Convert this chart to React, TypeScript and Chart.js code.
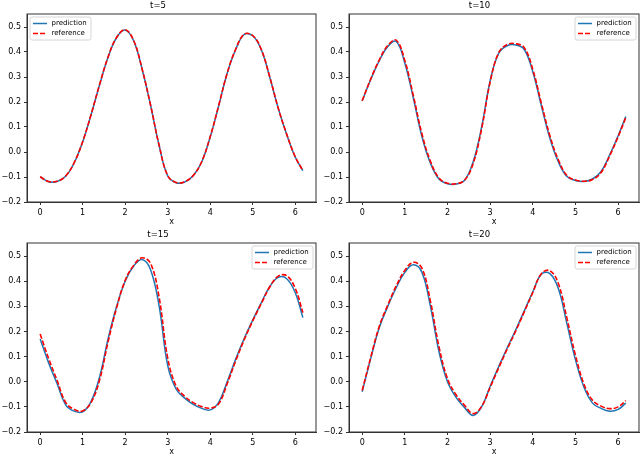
import React, { useEffect, useRef } from 'react';
import { Chart, registerables } from 'chart.js';

Chart.register(...registerables);

// ---------- data ----------
const seriesLabels = ['prediction', 'reference'];
const panelTitles = ['t=5', 't=10', 't=15', 't=20'];
const xTickValues = [0, 1, 2, 3, 4, 5, 6];
const yTickValues = [-0.2, -0.1, 0, 0.1, 0.2, 0.3, 0.4, 0.5];

// sample positions along x (shared by all panels)
const xGrid = [0, 0.2, 0.4, 0.6, 0.8, 1.0, 1.2, 1.4, 1.6, 1.8, 2.0, 2.2, 2.4, 2.6, 2.8, 3.0, 3.2, 3.4, 3.6, 3.8, 4.0, 4.2, 4.4, 4.6, 4.8, 5.0, 5.2, 5.4, 5.6, 5.8, 6.0, 6.18];

const t5Pred = [-0.100, -0.119, -0.118, -0.097, -0.044, 0.040, 0.150, 0.270, 0.380, 0.458, 0.488, 0.445, 0.330, 0.185, 0.025, -0.095, -0.123, -0.120, -0.095, -0.040, 0.060, 0.185, 0.315, 0.410, 0.470, 0.465, 0.410, 0.300, 0.175, 0.070, -0.020, -0.075];
const t5Ref = [-0.099, -0.118, -0.117, -0.096, -0.043, 0.041, 0.151, 0.271, 0.381, 0.459, 0.489, 0.446, 0.331, 0.186, 0.026, -0.094, -0.122, -0.119, -0.094, -0.039, 0.061, 0.186, 0.316, 0.411, 0.471, 0.466, 0.411, 0.301, 0.176, 0.071, -0.019, -0.074];

const t10Pred = [0.205, 0.290, 0.365, 0.422, 0.442, 0.355, 0.215, 0.062, -0.045, -0.108, -0.127, -0.128, -0.113, -0.040, 0.100, 0.285, 0.395, 0.425, 0.428, 0.410, 0.320, 0.185, 0.055, -0.040, -0.098, -0.114, -0.118, -0.108, -0.078, -0.012, 0.065, 0.142];
const t10Ref = [0.205, 0.292, 0.368, 0.426, 0.447, 0.366, 0.225, 0.073, -0.037, -0.104, -0.125, -0.127, -0.113, -0.047, 0.093, 0.280, 0.397, 0.430, 0.433, 0.417, 0.330, 0.195, 0.065, -0.032, -0.094, -0.112, -0.117, -0.110, -0.082, -0.016, 0.061, 0.138];

const t15Pred = [0.170, 0.075, -0.008, -0.092, -0.117, -0.120, -0.078, 0.020, 0.172, 0.300, 0.400, 0.460, 0.486, 0.445, 0.300, 0.065, -0.030, -0.065, -0.090, -0.106, -0.112, -0.082, 0.000, 0.090, 0.172, 0.245, 0.314, 0.378, 0.415, 0.410, 0.355, 0.255];
const t15Ref = [0.190, 0.092, 0.005, -0.082, -0.110, -0.116, -0.082, 0.008, 0.160, 0.295, 0.403, 0.463, 0.493, 0.470, 0.335, 0.095, -0.018, -0.058, -0.083, -0.099, -0.105, -0.088, -0.008, 0.083, 0.167, 0.242, 0.310, 0.377, 0.420, 0.422, 0.372, 0.275];

const t20Pred = [-0.040, 0.092, 0.215, 0.300, 0.375, 0.435, 0.465, 0.435, 0.300, 0.120, 0.000, -0.062, -0.103, -0.134, -0.100, -0.018, 0.060, 0.135, 0.207, 0.282, 0.358, 0.428, 0.430, 0.370, 0.230, 0.087, -0.022, -0.085, -0.106, -0.117, -0.110, -0.085];
const t20Ref = [-0.035, 0.097, 0.220, 0.305, 0.382, 0.443, 0.475, 0.452, 0.320, 0.140, 0.012, -0.052, -0.094, -0.127, -0.098, -0.022, 0.055, 0.130, 0.202, 0.278, 0.355, 0.430, 0.442, 0.390, 0.252, 0.105, -0.010, -0.074, -0.097, -0.107, -0.100, -0.075];

const panelPred = [t5Pred, t10Pred, t15Pred, t20Pred];
const panelRef = [t5Ref, t10Ref, t15Ref, t20Ref];

// ---------- style / layout ----------
const FONT = 'DejaVu Sans';
const BLUE = '#1f77b4';
const RED = '#ff0000';
const SPINE = '#333333';

const layouts = [
  { left: 0, top: 0, w: 320, h: 229, yW: 27, xH: 27, padR: 4, xTitlePad: 3, legend: 'left' },
  { left: 320, top: 0, w: 320, h: 229, yW: 29, xH: 27, padR: 1, xTitlePad: 3, legend: 'right' },
  { left: 0, top: 229, w: 320, h: 228, yW: 27, xH: 25, padR: 4, xTitlePad: 1, legend: 'right' },
  { left: 320, top: 229, w: 320, h: 228, yW: 29, xH: 25, padR: 1, xTitlePad: 1, legend: 'right' },
];

const fmtY = (v: number) => (v < -1e-9 ? '\u2212' + Math.abs(v).toFixed(1) : Math.abs(v).toFixed(1));

const framePlugin = {
  id: 'mplFrame',
  afterDraw(chart: any, _args: any, opts: any) {
    const { ctx, chartArea } = chart;
    const { left, top, right, bottom } = chartArea;
    ctx.save();
    ctx.strokeStyle = SPINE;
    ctx.lineWidth = 1;
    ctx.strokeRect(left, top, right - left, bottom - top);
    // legend
    const w = 61, h = 23;
    const bx = opts.side === 'left' ? left + 3 : right - 3 - w;
    const by = top + 3;
    ctx.beginPath();
    const r = 2;
    ctx.moveTo(bx + r, by);
    ctx.lineTo(bx + w - r, by);
    ctx.quadraticCurveTo(bx + w, by, bx + w, by + r);
    ctx.lineTo(bx + w, by + h - r);
    ctx.quadraticCurveTo(bx + w, by + h, bx + w - r, by + h);
    ctx.lineTo(bx + r, by + h);
    ctx.quadraticCurveTo(bx, by + h, bx, by + h - r);
    ctx.lineTo(bx, by + r);
    ctx.quadraticCurveTo(bx, by, bx + r, by);
    ctx.closePath();
    ctx.fillStyle = 'rgba(255,255,255,0.8)';
    ctx.fill();
    ctx.strokeStyle = '#d6d6d6';
    ctx.lineWidth = 1;
    ctx.stroke();
    chart.data.datasets.forEach((ds: any, i: number) => {
      const ly = by + 6.5 + i * 10;
      ctx.beginPath();
      ctx.setLineDash(ds.borderDash || []);
      ctx.strokeStyle = ds.borderColor;
      ctx.lineWidth = ds.borderWidth;
      ctx.moveTo(bx + 3, ly);
      ctx.lineTo(bx + 17, ly);
      ctx.stroke();
      ctx.setLineDash([]);
      ctx.fillStyle = '#000';
      ctx.font = `7px "${FONT}"`;
      ctx.textBaseline = 'middle';
      ctx.textAlign = 'left';
      ctx.fillText(ds.label, bx + 21.5, ly);
    });
    ctx.restore();
  },
};

function Panel({ idx }: { idx: number }) {
  const ref = useRef<HTMLCanvasElement | null>(null);
  const L = layouts[idx];
  useEffect(() => {
    if (!ref.current) return;
    const chart = new Chart(ref.current, {
      type: 'line',
      data: {
        datasets: [
          {
            label: seriesLabels[0],
            data: xGrid.map((x, i) => ({ x, y: panelPred[idx][i] })),
            borderColor: BLUE,
            borderWidth: 1.5,
            pointRadius: 0,
            fill: false,
            tension: 0.4,
            order: 1,
          },
          {
            label: seriesLabels[1],
            data: xGrid.map((x, i) => ({ x, y: panelRef[idx][i] })),
            borderColor: RED,
            borderWidth: 1.6,
            borderDash: [5, 2],
            pointRadius: 0,
            fill: false,
            tension: 0.4,
            order: 0,
          },
        ],
      },
      options: {
        animation: false,
        responsive: false,
        maintainAspectRatio: false,
        devicePixelRatio: 1,
        layout: { padding: { left: 0, right: L.padR, top: 0, bottom: 0 } },
        plugins: {
          legend: { display: false },
          tooltip: { enabled: false },
          title: {
            display: true,
            text: panelTitles[idx],
            color: '#000',
            font: { family: FONT, size: 8.5, weight: 'normal', lineHeight: 1 },
            padding: { top: 1.5, bottom: 4 },
          },
          mplFrame: { side: L.legend },
        } as any,
        scales: {
          x: {
            type: 'linear',
            min: -0.309,
            max: 6.489,
            afterBuildTicks: (s: any) => {
              s.ticks = xTickValues.map((v) => ({ value: v }));
            },
            afterFit: (s: any) => {
              s.height = L.xH;
            },
            ticks: {
              color: '#000',
              font: { family: FONT, size: 8 },
              padding: 3,
              maxRotation: 0,
              autoSkip: false,
              callback: (v: any) => String(v),
            },
            grid: { drawOnChartArea: false, drawTicks: true, tickLength: 3, color: SPINE },
            border: { display: true, color: SPINE },
            title: {
              display: true,
              text: 'x',
              color: '#000',
              font: { family: FONT, size: 8, lineHeight: 1 },
              padding: { top: 0, bottom: L.xTitlePad },
            },
          },
          y: {
            type: 'linear',
            min: -0.2,
            max: 0.552,
            afterBuildTicks: (s: any) => {
              s.ticks = yTickValues.map((v) => ({ value: v }));
            },
            afterFit: (s: any) => {
              s.width = L.yW;
            },
            ticks: {
              color: '#000',
              font: { family: FONT, size: 8 },
              padding: 3,
              autoSkip: false,
              callback: (v: any) => fmtY(Number(v)),
            },
            grid: { drawOnChartArea: false, drawTicks: true, tickLength: 3, color: SPINE },
            border: { display: true, color: SPINE },
          },
        },
      } as any,
      plugins: [framePlugin as any],
    });
    return () => chart.destroy();
  }, [idx]);
  return (
    <canvas
      ref={ref}
      width={L.w}
      height={L.h}
      style={{ position: 'absolute', left: L.left, top: L.top, width: L.w, height: L.h }}
    />
  );
}

export default function App() {
  useEffect(() => {
    document.body.style.margin = '0';
    document.body.style.background = '#fff';
  }, []);
  return (
    <div style={{ position: 'relative', width: 640, height: 457, background: '#fff', overflow: 'hidden' }}>
      {[0, 1, 2, 3].map((i) => (
        <Panel key={i} idx={i} />
      ))}
    </div>
  );
}
